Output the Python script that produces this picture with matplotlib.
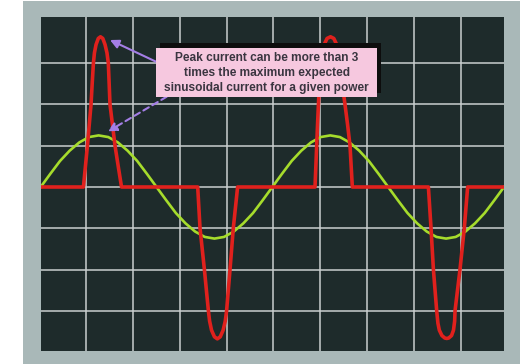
import matplotlib.pyplot as plt
from matplotlib.patches import Rectangle

# sinusoidal reference current (x in degrees, y in grid divisions)
sine_deg = [0, 15, 30, 45, 60, 75, 90, 105, 120, 135, 150, 165, 180,
            195, 210, 225, 240, 255, 270, 285, 300, 315, 330, 345, 360,
            375, 390, 405, 420, 435, 450, 465, 480, 495, 510, 525, 540,
            555, 570, 585, 600, 615, 630, 645, 660, 675, 690, 705, 720]
sine_val = [0, .32, .63, .88, 1.08, 1.21, 1.25, 1.21, 1.08, .88, .63, .32, 0,
            -.32, -.63, -.88, -1.08, -1.21, -1.25, -1.21, -1.08, -.88, -.63, -.32, 0,
            .32, .63, .88, 1.08, 1.21, 1.25, 1.21, 1.08, .88, .63, .32, 0,
            -.32, -.63, -.88, -1.08, -1.21, -1.25, -1.21, -1.08, -.88, -.63, -.32, 0]

# distorted (peaky) current drawn by the load
pulse_deg = [0, 66.4, 69.5, 72.6, 75.4, 78.2, 80, 81.9, 83.5, 86, 89.5, 92.9,
             96.5, 100, 103, 105.1, 106.4, 107.7, 111.6, 115.5, 120.5, 125.6,
             244, 247.6, 254.4, 260.6, 262.5, 265.5, 270, 274.5, 279, 283.5,
             286.8, 288.9, 294.2, 299.3, 306,
             426.3, 427.6, 428.9, 430.2, 431.6, 433.5, 435.5, 437.5, 440.5, 445,
             450.4, 455.5, 460, 463, 465.5, 468.5, 472.9, 477, 480.7, 482.5, 484.3,
             602.5, 606.6, 610.3, 615.4, 617.3, 619.5, 623.5, 628, 631, 634,
             638.5, 641.5, 643.3, 643.9, 651.6, 658.3, 663.5, 720]
pulse_val = [0, 0, 0.5, 1.0, 1.5, 2.0, 2.5, 3.0, 3.25, 3.45, 3.6, 3.64,
             3.6, 3.45, 3.25, 3.0, 2.5, 2.0, 1.5, 1.0, 0.5, 0,
             0, -1.0, -2.0, -3.0, -3.25, -3.47, -3.63, -3.68, -3.63, -3.47,
             -3.25, -3.0, -2.0, -1.0, 0,
             0, 0.5, 1.0, 1.5, 2.0, 2.6, 3.0, 3.25, 3.45, 3.6,
             3.64, 3.6, 3.45, 3.25, 3.0, 2.5, 2.0, 1.5, 1.0, 0.5, 0,
             0, -1.0, -2.0, -3.0, -3.3, -3.47, -3.6, -3.66, -3.67, -3.66,
             -3.6, -3.47, -3.25, -3.0, -2.0, -1.0, 0, 0]

note = ["Peak current can be more than 3",
        "times the maximum expected",
        "sinusoidal current for a given power"]

W, H = 520, 364
fig = plt.figure(figsize=(5.2, 3.64), dpi=100)
fig.patch.set_facecolor("white")

# grey scope bezel
fig.add_artist(Rectangle((22.7 / W, 0), 1, 1 - 1.3 / H, transform=fig.transFigure,
                         facecolor="#a9b8b8", edgecolor="none", zorder=-5))

ax = fig.add_axes([40.7 / W, 13 / H, 463.3 / W, 333.7 / H])
ax.set_facecolor("#1e2b2b")
ax.set_xlim(0, 720)
ax.set_ylim(-3.974, 4.112)
for s in ax.spines.values():
    s.set_visible(False)
ax.set_xticks([70.4 + 72.8 * k for k in range(9)])
ax.set_yticks([-3, -2, -1, 0, 1, 2, 3])
ax.tick_params(length=0, labelbottom=False, labelleft=False)
ax.grid(True, color="#c9cfcf", lw=1.1)
ax.set_axisbelow(True)

ax.plot(sine_deg, sine_val, color="#a6dc2c", lw=1.9, solid_joinstyle="round")
ax.plot(pulse_deg, pulse_val, color="#e0211d", lw=2.6,
        solid_joinstyle="round", solid_capstyle="round")

# callout box with shadow
def fx(px):
    return px / W

def fy(py):
    return 1 - py / H

fig.add_artist(Rectangle((fx(160), fy(93.3)), fx(380.7) - fx(160), fy(43.3) - fy(93.3),
                         transform=fig.transFigure, facecolor="#0d0d0d",
                         edgecolor="none", zorder=2))
fig.add_artist(Rectangle((fx(156), fy(96.7)), fx(377.3) - fx(156), fy(48) - fy(96.7),
                         transform=fig.transFigure, facecolor="#f6c8df",
                         edgecolor="none", zorder=3))
for i, line in enumerate(note):
    fig.text(fx(266.7), fy(58.3 + 15 * i), line, ha="center", va="center",
             fontsize=8.6, fontweight="bold", family="Liberation Sans",
             color="#3a3540", zorder=4)

arrow_col = "#a47ee6"
ax.annotate("", xy=(110, H - 40), xycoords="figure pixels",
            xytext=(156, H - 61.7), textcoords="figure pixels",
            arrowprops=dict(arrowstyle="-|>", color=arrow_col, lw=1.5,
                            mutation_scale=13, shrinkA=0, shrinkB=0),
            annotation_clip=False, zorder=5)
ax.annotate("", xy=(108, H - 131.5), xycoords="figure pixels",
            xytext=(166.7, H - 96.7), textcoords="figure pixels",
            arrowprops=dict(arrowstyle="-|>", color=arrow_col, lw=1.5,
                            linestyle=(0, (3, 2)), mutation_scale=13,
                            shrinkA=0, shrinkB=0),
            annotation_clip=False, zorder=5)

fig.savefig("out.png", dpi=100)
